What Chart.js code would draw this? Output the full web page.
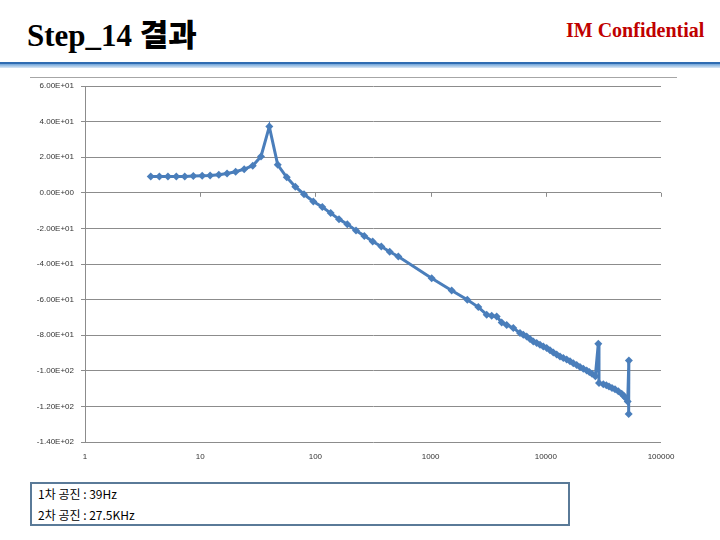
<!DOCTYPE html>
<html>
<head>
<meta charset="utf-8">
<script src="https://cdn.jsdelivr.net/npm/chart.js@4/dist/chart.umd.min.js"></script>
<style>
  body { margin: 0; width: 720px; height: 540px; background: #fff; position: relative; overflow: hidden; }
  #title { position: absolute; left: 27px; top: 10px; font: bold 31px "Liberation Serif", "Noto Sans CJK KR", serif; color: #000; white-space: nowrap; }
  #title .ko { font-family: "Noto Sans CJK KR", sans-serif; font-weight: 900; font-size: 31px; }
  #conf { position: absolute; left: 566px; top: 19px; font: bold 20px "Liberation Serif", serif; color: #c00000; white-space: nowrap; }
  #band1 { position: absolute; left: 0; top: 62px; width: 720px; height: 2px; background: #2f6cb2; }
  #band2 { position: absolute; left: 0; top: 64px; width: 720px; height: 4px; background: linear-gradient(#6fa3d8, #dbe9f6); }
  #frame { position: absolute; left: 30px; top: 77px; width: 647px; height: 1px; background: #a6a6a6; }
  #chartBox { position: absolute; left: 30px; top: 77px; }
  #note { position: absolute; left: 30px; top: 482px; width: 536px; height: 40px; border: 2px solid #5a7a98; font: 12px "Noto Sans CJK KR", sans-serif; color: #000; }
  #note div { position: absolute; left: 6px; white-space: nowrap; }
</style>
</head>
<body>
<div id="title">Step_14 <span class="ko">결과</span></div>
<div id="conf">IM Confidential</div>
<div id="band1"></div>
<div id="band2"></div>
<div id="frame"></div>
<div id="chartBox"><canvas id="myChart" width="647" height="395"></canvas></div>
<div id="note">
  <div style="top:1px">1차 공진 : 39Hz</div>
  <div style="top:22px">2차 공진 : 27.5KHz</div>
</div>
<script>
// frequency (Hz) and response
var freqs = [3.72, 4.42, 5.25, 6.20, 7.34, 8.71, 10.4, 12.2, 14.5, 17.1,
  20.3, 24.1, 28.6, 33.7, 39.8, 47.1, 56.4, 66.9, 79.6, 95.9,
  114.8, 135.7, 160.3, 189.2, 225.0, 265.7, 314.3, 373.4, 441.6, 524.4,
  1022, 1524, 2083, 2594, 3069, 3391, 3749, 4142, 4578, 5224,
  5970, 6380, 6826, 7295, 7790, 8337, 8906, 9510, 10180, 10870,
  11620, 12430, 13280, 14190, 15180, 16220, 17330, 18540, 19810, 21160,
  22650, 23870, 25180, 26920, 28560, 28960, 31560, 33500, 35380, 37560,
  39880, 42590, 45600, 47440, 49390, 51410, 52600, 52400];
var mags = [9.2, 9.2, 9.2, 9.2, 9.2, 9.4, 9.6, 9.7, 10.1, 10.8,
  11.8, 13.3, 15.2, 20.4, 37.2, 15.7, 8.7, 3.4, -0.8, -4.9,
  -8.0, -11.4, -14.8, -17.6, -21.2, -24.2, -27.4, -30.2, -33.1, -35.8,
  -48.0, -54.9, -60.1, -64.2, -68.5, -69.1, -69.5, -72.9, -74.2, -76.0,
  -78.8, -79.8, -80.7, -82.2, -83.5, -84.4, -85.4, -86.3, -87.2, -88.5,
  -89.7, -90.8, -92.0, -92.8, -93.7, -94.7, -95.7, -96.7, -97.8, -98.9,
  -99.8, -100.7, -101.7, -103.0, -84.8, -106.9, -107.5, -108.1, -108.8, -109.6,
  -110.3, -111.5, -112.9, -114.0, -115.3, -117.2, -94.2, -124.2];

var xTicks = [1, 10, 100, 1000, 10000, 100000];
var yMin = -140;
var yMax = 60;
var yStep = 20;

var LINE_COLOR = '#4a7ebb';
var GRID_COLOR = '#8c8c8c';

function sciLabel(v) {
  if (v === 0) return '0.00E+00';
  var exp = Math.floor(Math.log10(Math.abs(v)));
  var mant = v / Math.pow(10, exp);
  return mant.toFixed(2) + 'E' + (exp < 0 ? '-' : '+') + String(Math.abs(exp)).padStart(2, '0');
}

// small tick marks where the x axis crosses zero (like excel)
var zeroTicks = {
  id: 'zeroTicks',
  afterDraw(chart) {
    var ctx = chart.ctx;
    var xs = chart.scales.x;
    var y0 = chart.scales.y.getPixelForValue(0);
    ctx.save();
    ctx.strokeStyle = GRID_COLOR;
    ctx.lineWidth = 1;
    xTicks.forEach(function (v) {
      var px = Math.round(xs.getPixelForValue(v)) + 0.5;
      ctx.beginPath();
      ctx.moveTo(px, y0);
      ctx.lineTo(px, y0 + 4);
      ctx.stroke();
    });
    ctx.restore();
  }
};

var points = freqs.map(function (f, i) { return { x: f, y: mags[i] }; });

new Chart('myChart', {
  type: 'scatter',
  data: {
    datasets: [{
      data: points,
      showLine: true,
      borderColor: LINE_COLOR,
      backgroundColor: LINE_COLOR,
      borderWidth: 3,
      pointStyle: 'rectRot',
      pointRadius: 4,
      pointBorderWidth: 0,
      tension: 0
    }]
  },
  plugins: [zeroTicks],
  options: {
    responsive: false,
    animation: false,
    layout: { padding: { top: 9, right: 16, left: 0, bottom: 0 } },
    plugins: {
      legend: { display: false },
      tooltip: { enabled: false }
    },
    scales: {
      x: {
        type: 'logarithmic',
        min: 1,
        max: 100000,
        afterBuildTicks: function (scale) {
          scale.ticks = xTicks.map(function (v) { return { value: v }; });
        },
        afterFit: function (scale) {
          scale.height = 30;
          scale.paddingLeft = 0;
          scale.paddingRight = 0;
        },
        grid: { display: false, drawTicks: false },
        border: { display: false },
        ticks: {
          padding: 10,
          maxRotation: 0,
          autoSkip: false,
          color: '#333',
          font: { family: 'Liberation Sans', size: 8 },
          callback: function (v) { return String(v); }
        }
      },
      y: {
        min: yMin,
        max: yMax,
        afterFit: function (scale) {
          scale.width = 55;
          scale.paddingTop = 0;
          scale.paddingBottom = 0;
        },
        ticks: {
          stepSize: yStep,
          padding: 7,
          color: '#333',
          font: { family: 'Liberation Sans', size: 8 },
          callback: function (v) { return sciLabel(v); }
        },
        grid: { color: GRID_COLOR, lineWidth: 1, tickLength: 4 },
        border: { color: GRID_COLOR, width: 1 }
      }
    }
  }
});
</script>
</body>
</html>
